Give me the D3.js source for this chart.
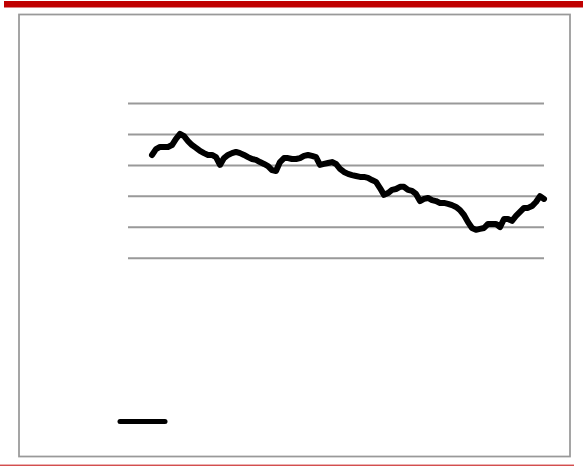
<!DOCTYPE html>
<html><head><meta charset="utf-8">
<script src="https://cdn.jsdelivr.net/npm/d3@7"></script>
<style>html,body{margin:0;padding:0;background:#fff;}svg{display:block;}</style>
</head><body>
<script>
// Data (unlabelled series; y in gridline units, x as sequential period index)
const periods = d3.range(6, 105);
const seriesValues = [3.32,3.51,3.58,3.58,3.58,3.64,3.84,4.00,3.93,3.77,3.64,3.55,3.45,3.38,3.32,3.32,3.25,3.00,3.22,3.32,
3.38,3.42,3.38,3.32,3.25,3.19,3.16,3.09,3.03,2.96,2.83,2.80,3.09,3.22,3.22,3.19,3.19,3.22,3.29,3.32,
3.29,3.25,3.00,3.03,3.06,3.09,3.03,2.87,2.77,2.71,2.67,2.64,2.61,2.61,2.58,2.51,2.45,2.25,2.03,2.09,
2.19,2.22,2.29,2.29,2.19,2.16,2.06,1.83,1.90,1.93,1.86,1.83,1.77,1.77,1.74,1.70,1.64,1.54,1.38,1.15,
0.96,0.90,0.93,0.96,1.09,1.09,1.09,0.99,1.25,1.25,1.19,1.35,1.48,1.61,1.61,1.67,1.80,1.99,1.90];
const yTicks = [0,1,2,3,4,5];
const xDomain = [0, 104];

const W = 583, H = 466;
const svg = d3.select("body").append("svg").attr("width", W).attr("height", H);

// top red band
svg.append("rect").attr("x",4).attr("y",1).attr("width",W-4).attr("height",6.5).attr("fill","#c00000");
// bottom thin red rule
svg.append("line").attr("x1",0).attr("x2",574).attr("y1",465.2).attr("y2",465.2).attr("stroke","#c00000").attr("stroke-width",1);
// grey frame
svg.append("rect").attr("x",19).attr("y",14.5).attr("width",551).attr("height",442)
  .attr("fill","none").attr("stroke","#999").attr("stroke-width",1.75);

const x = d3.scaleLinear().domain(xDomain).range([128, 544]);
const y = d3.scaleLinear().domain([0,5]).range([257.7, 103]);

// gridlines via axis
const gAxis = svg.append("g").attr("transform","translate(128,0)")
  .call(d3.axisLeft(y).tickValues(yTicks).tickSize(-416).tickFormat(""));
gAxis.select(".domain").remove();
gAxis.selectAll(".tick line").attr("stroke","#999").attr("stroke-width",2);

const data = periods.map((p,i)=>({p, v: seriesValues[i]}));
svg.append("path").datum(data)
  .attr("fill","none").attr("stroke","#000").attr("stroke-width",6)
  .attr("stroke-linejoin","round").attr("stroke-linecap","round")
  .attr("d", d3.line().x(d=>x(d.p)).y(d=>y(d.v)));

// legend swatch (no label)
svg.append("line").attr("x1",120).attr("x2",165).attr("y1",421.5).attr("y2",421.5)
  .attr("stroke","#000").attr("stroke-width",5).attr("stroke-linecap","round");
</script>
</body></html>
